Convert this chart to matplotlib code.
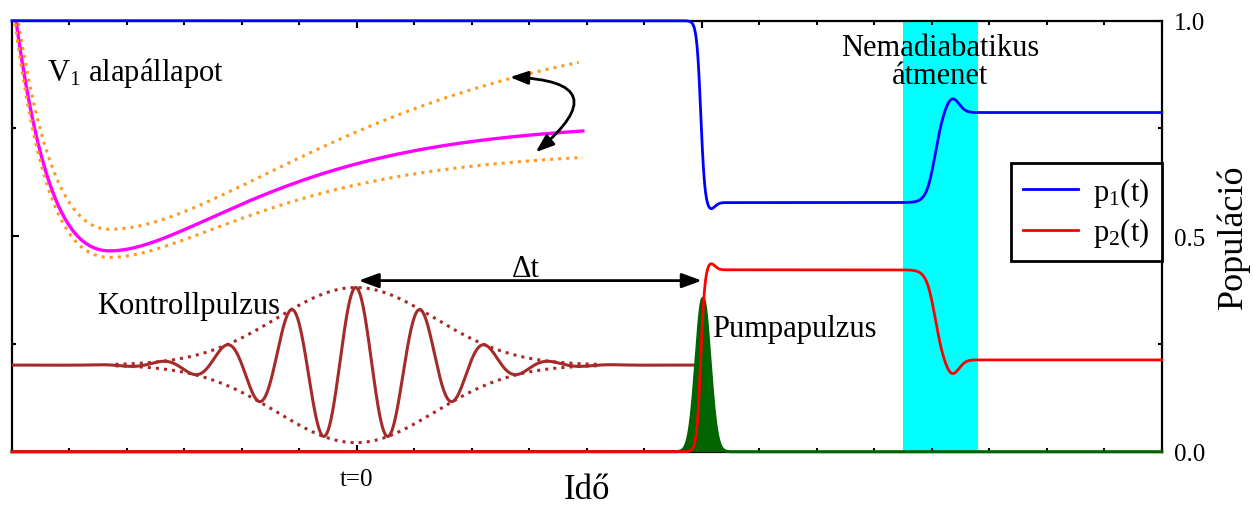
import numpy as np
import matplotlib
matplotlib.use("Agg")
import matplotlib.pyplot as plt

plt.rcParams['font.family'] = ['Liberation Serif', 'DejaVu Serif']
plt.rcParams['mathtext.fontset'] = 'custom'
plt.rcParams['mathtext.rm'] = 'Liberation Serif'
plt.rcParams['mathtext.it'] = 'Liberation Serif:italic'

# values (time axis: t=0 at control pulse, 1 unit = 1 minor tick)
X_RANGE = [-6, 14]
X_MAJOR = [0, 6]
X_MAJOR_LABELS = ['t=0', '']
Y_TICKS = [0.0, 0.5, 1.0]
Y_TICK_LABELS = ['0.0', '0.5', '1.0']

# p2(t): plateau levels, step times/widths, over/undershoot bumps (p1 = 1 - p2)
P2_LEVELS = [0.0, 0.422, 0.213]
STEP_TIMES = [5.98, 10.05]
STEP_WIDTHS = [0.07, 0.15]
BUMP_TIMES = [6.14, 10.35]
BUMP_AMPS = [0.017, -0.035]
BUMP_WIDTHS = [0.08, 0.12]

# pump pulse (green)
PUMP_CENTER = 6.02
PUMP_AMP = 0.356
PUMP_SIGMA = 0.12

# control pulse (dark red)
CTRL_CENTER = -0.02
CTRL_BASE = 0.201
CTRL_AMP = 0.18
CTRL_SIGMA = 1.37
CTRL_PERIOD = 1.13
CTRL_END = 5.97
ENV_RANGE = [-4.2, 4.2]

# potential curves: upper dotted, solid, lower dotted
POT_MIN_X = -4.30
POT_MIN_Y = [0.516, 0.466, 0.451]
POT_DEPTH = [0.5, 0.3, 0.25]
POT_A_LEFT = [0.43, 0.52, 0.55]
POT_A_RIGHT = [0.26, 0.4, 0.4]
POT_END = [3.86, 3.93, 3.93]

NONAD_BAND = [9.5, 10.8]

t = np.linspace(X_RANGE[0], X_RANGE[1], 6001)


def step(x, t0, w):
    return 0.5 * (1 + np.tanh((x - t0) / w))


def p2_curve(x):
    y = np.full_like(x, P2_LEVELS[0])
    for i in range(len(STEP_TIMES)):
        y += (P2_LEVELS[i + 1] - P2_LEVELS[i]) * step(x, STEP_TIMES[i], STEP_WIDTHS[i])
        y += BUMP_AMPS[i] * np.exp(-(x - BUMP_TIMES[i]) ** 2 / (2 * BUMP_WIDTHS[i] ** 2))
    return y


def morse(x, y0, d, a_left, a_right):
    a = np.where(x < POT_MIN_X, a_left, a_right)
    return y0 + d * (1 - np.exp(-a * (x - POT_MIN_X))) ** 2


fig = plt.figure(figsize=(12.53, 5.06), dpi=100)
ax = fig.add_axes([0.00958, 0.1053, 0.9176, 0.8518])
ax.set_xlim(*X_RANGE)
ax.set_ylim(0, 1)

ax.axvspan(NONAD_BAND[0], NONAD_BAND[1], color='#00FFFF', lw=0, zorder=0)

# potentials
pot_styles = [dict(color='#FF9922', ls=':', lw=2.2),
              dict(color='#FF00FF', ls='-', lw=2.4),
              dict(color='#FF9922', ls=':', lw=2.2)]
for i in range(3):
    xp = np.linspace(X_RANGE[0], POT_END[i], 800)
    ax.plot(xp, morse(xp, POT_MIN_Y[i], POT_DEPTH[i], POT_A_LEFT[i], POT_A_RIGHT[i]),
            zorder=2, **pot_styles[i])

# control pulse + envelope
xc = t[t <= CTRL_END]
env_c = CTRL_AMP * np.exp(-(xc - CTRL_CENTER) ** 2 / (2 * CTRL_SIGMA ** 2))
ax.plot(xc, CTRL_BASE + env_c * np.cos(2 * np.pi * (xc - CTRL_CENTER) / CTRL_PERIOD),
        color='#A52A2A', lw=2.2, zorder=3)
xe = np.linspace(ENV_RANGE[0], ENV_RANGE[1], 400)
env = CTRL_AMP * np.exp(-(xe - CTRL_CENTER) ** 2 / (2 * CTRL_SIGMA ** 2))
ax.plot(xe, CTRL_BASE + env, color='#A52A2A', ls=':', lw=2.2, zorder=3)
ax.plot(xe, CTRL_BASE - env, color='#A52A2A', ls=':', lw=2.2, zorder=3)

# pump pulse
pump = PUMP_AMP * np.exp(-(t - PUMP_CENTER) ** 2 / (2 * PUMP_SIGMA ** 2))
ax.fill_between(t, 0, pump, color='#006400', lw=0, zorder=3)
ax.plot(t, pump, color='#006400', lw=2.2, zorder=3, clip_on=False)

# populations
p2 = p2_curve(t)
p1 = 1 - p2
ax.plot(t, p2, color='#FF0000', lw=2, zorder=4, clip_on=False, label='p$_2$(t)')
ax.plot(t, p1, color='#0000FF', lw=2, zorder=4, clip_on=False, label='p$_1$(t)')

# arrows
ax.annotate('', xy=(0.03, 0.397), xytext=(6.0, 0.397),
            arrowprops=dict(arrowstyle='<|-|>,head_length=0.6,head_width=0.22',
                            color='black', lw=2, mutation_scale=20,
                            shrinkA=0, shrinkB=0), zorder=5)
ax.annotate('', xy=(2.66, 0.869), xytext=(3.11, 0.695),
            arrowprops=dict(arrowstyle='<|-|>,head_length=0.6,head_width=0.22',
                            color='black', lw=2, mutation_scale=18,
                            shrinkA=0, shrinkB=0,
                            connectionstyle='arc3,rad=1.3'), zorder=5)

# annotations
ax.text(-5.39, 0.881, 'V$_1$ alapállapot', fontsize=22, ha='left', va='center')
ax.text(-4.52, 0.340, 'Kontrollpulzus', fontsize=22, ha='left', va='center')
ax.text(6.17, 0.285, 'Pumpapulzus', fontsize=22, ha='left', va='center')
ax.text(2.94, 0.424, 'Δt', fontsize=22, ha='center', va='center')
ax.text(10.14, 0.905, 'Nemadiabatikus\nátmenet', fontsize=22, ha='center', va='center',
        multialignment='center', linespacing=0.95)

# axes styling
for s in ax.spines.values():
    s.set_linewidth(1.6)
    s.set_color('black')
ax.set_xticks(X_MAJOR)
ax.set_xticklabels(X_MAJOR_LABELS)
ax.set_xticks(np.arange(X_RANGE[0], X_RANGE[1] + 1), minor=True)
ax.set_yticks(Y_TICKS)
ax.set_yticklabels(Y_TICK_LABELS)
ax.set_yticks([0.25, 0.75], minor=True)
ax.tick_params(which='both', direction='in', top=True, bottom=True, left=True, right=True,
               labelleft=False, labelright=True, width=1.5)
ax.tick_params(which='major', length=5)
ax.tick_params(which='minor', length=3)
ax.tick_params(axis='x', labelsize=18, pad=12)
ax.tick_params(axis='y', labelsize=18, pad=9)

ax.set_xlabel('Idő', fontsize=25, va='center')
ax.xaxis.set_label_coords(0.5, -0.087)
ax.yaxis.set_label_position('right')
ax.set_ylabel('Populáció', fontsize=26, va='center', rotation=90)
ax.yaxis.set_label_coords(1.062, 0.5)

handles, labels = ax.get_legend_handles_labels()
leg = ax.legend(handles[::-1], labels[::-1], loc='upper right', bbox_to_anchor=(1.0, 0.67),
                borderaxespad=0, fontsize=22, handlelength=1.8, handletextpad=0.5,
                borderpad=0.4, labelspacing=0.2, fancybox=False, framealpha=1)
leg.get_frame().set_edgecolor('black')
leg.get_frame().set_linewidth(2)
leg.set_zorder(6)

fig.savefig('out.png', dpi=100)
plt.close(fig)
